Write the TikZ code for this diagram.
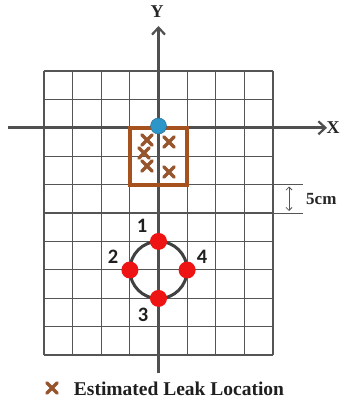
\documentclass[tikz,border=0pt]{standalone}
\usepackage{fontspec}
\setmainfont{Liberation Serif}
\newfontfamily\numfont{Carlito}
\usetikzlibrary{arrows.meta,shapes.misc}
\definecolor{gridc}{RGB}{85,85,85}
\definecolor{axisc}{RGB}{80,80,80}
\definecolor{ringc}{RGB}{65,65,65}
\definecolor{brownc}{RGB}{165,82,30}
\definecolor{crossc}{RGB}{150,85,45}
\definecolor{bluec}{RGB}{45,150,200}
\definecolor{redc}{RGB}{238,20,20}
\begin{document}
\begin{tikzpicture}[x=1pt,y=-1pt,
  gridline/.style={draw=gridc,line width=1.2pt},
  axisline/.style={draw=axisc,line width=2.6pt,-{Straight Barb[length=7pt,width=13pt,line width=2.2pt]}},
  leak/.style={cross out,draw=crossc,line width=3.2pt,minimum size=7.5pt,inner sep=0pt,line cap=round},
  sensor/.style={circle,fill=redc,minimum size=17pt,inner sep=0pt},
  numlab/.style={font=\numfont\bfseries\fontsize{20.5}{20.5}\selectfont,text=black!88,inner sep=0pt},
  axlab/.style={font=\bfseries\fontsize{18}{18}\selectfont,text=black!85,inner sep=0pt},
  dimline/.style={draw=gridc,line width=0.8pt},
  dimarrow/.style={draw=gridc,line width=0.8pt,{Straight Barb[length=3pt,width=6pt]}-{Straight Barb[length=3pt,width=6pt]}}
]
\useasboundingbox (0,0) rectangle (342,403);
\fill[white] (0,0) rectangle (342,403);
% grid
\foreach \i in {0,...,8} \draw[gridline] ({44+\i*28.625},71) -- ({44+\i*28.625},355);
\foreach \j in {0,...,10} \draw[gridline] (44,{71+\j*28.4}) -- (273,{71+\j*28.4});
% dimension
\coordinate (e1a) at (273,184.6);
\coordinate (e1b) at (303,184.6);
\coordinate (e2a) at (273,213);
\coordinate (e2b) at (303,213);
\draw[dimline] (e1a) -- (e1b);
\draw[dimline] (e2a) -- (e2b);
\coordinate (d1) at (289,186.5);
\coordinate (d2) at (289,211);
\draw[dimarrow] (d1) -- (d2);
\node[axlab,anchor=west,font=\bfseries\fontsize{17}{17}\selectfont] (dimlab) at (306,199) {5cm};
% axes
\coordinate (xs) at (8,127.8);
\coordinate (xe) at (327,127.8);
\coordinate (ys) at (158.5,373);
\coordinate (ye) at (158.5,26);
\draw[axisline] (xs) -- (xe);
\draw[axisline] (ys) -- (ye);
\node[axlab] (xlab) at (333,128) {X};
\node[axlab] (ylab) at (157,12) {Y};
% estimated region
\draw[draw=brownc,line width=4pt] (129.9,127.8) rectangle (187.1,184.6);
\node[circle,fill=bluec,draw=bluec!70!black,line width=0.4pt,minimum size=16pt,inner sep=0pt] (origin) at (158.5,126) {};
\node[leak] (c1) at (147,140) {};
\node[leak] (c2) at (169,142) {};
\node[leak] (c3) at (144,153) {};
\node[leak] (c4) at (147,166) {};
\node[leak] (c5) at (169,172) {};
% sensors
\draw[draw=ringc,line width=3pt] (158.5,270) circle[radius=28.6];
\node[sensor] (s1) at (158.5,241.4) {};
\node[sensor] (s2) at (129.9,270) {};
\node[sensor] (s3) at (158.5,298.4) {};
\node[sensor] (s4) at (187.1,270) {};
\node[numlab] (l1) at (142,226) {1};
\node[numlab] (l2) at (113,257) {2};
\node[numlab] (l3) at (143,315) {3};
\node[numlab] (l4) at (202,257) {4};
% legend
\node[leak] (legx) at (52,388) {};
\node[font=\bfseries\fontsize{19.5}{19.5}\selectfont,text=black!88,inner sep=0pt] (legt) at (179,389) {Estimated Leak Location};
\end{tikzpicture}
\end{document}
